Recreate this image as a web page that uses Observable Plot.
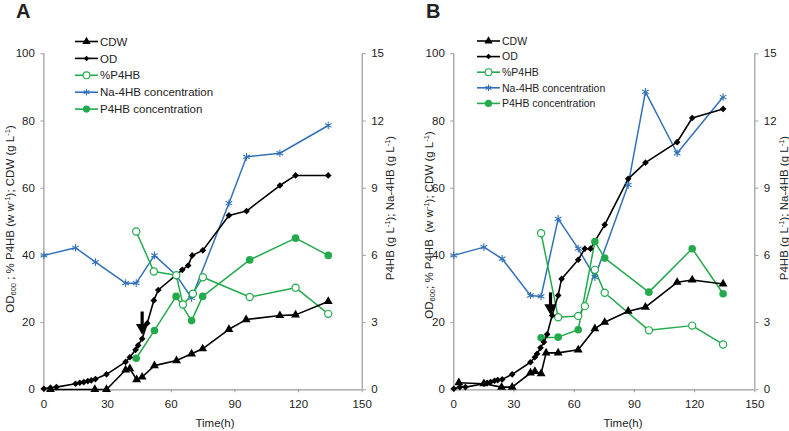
<!DOCTYPE html>
<html><head><meta charset="utf-8">
<script src="https://cdn.jsdelivr.net/npm/d3@7"></script>
<script src="https://cdn.jsdelivr.net/npm/@observablehq/plot@0.6"></script>
<style>
body{margin:0;background:#fff;}
#wrap{position:relative;width:789px;height:431px;font-family:"Liberation Sans",Arial,sans-serif;color:#222;overflow:hidden;}
.lbl{position:absolute;white-space:nowrap;font-size:11.5px;transform:translate(-50%,-50%);}
.rot{transform:translate(-50%,-50%) rotate(-90deg);}
.panel{position:absolute;font-weight:bold;font-size:20px;}
sub,sup{font-size:7.5px;}
sub{vertical-align:-2px;} sup{vertical-align:4px;}
</style></head>
<body><div id="wrap"></div>
<script>
// ---------- DATA ----------
const seriesNames = ["CDW", "OD", "%P4HB", "Na-4HB concentration", "P4HB concentration"];
const leftTicks = [0, 20, 40, 60, 80, 100];
const rightTicks = [0, 3, 6, 9, 12, 15];
const xTicks = [0, 30, 60, 90, 120, 150];

// Panel A
const odA_t = [0, 3.1, 5.9, 14.9, 16.9, 18.8, 20.7, 22.3, 24.3, 29.5, 38.5, 40.5, 43.2, 44.4, 46.3, 48.7, 51.8, 53.9, 65.2, 68, 69.9, 74.9, 87.2, 95.5, 111.2, 118.6, 134];
const odA_v = [0.3, 0.6, 0.8, 1.8, 2.1, 2.3, 2.6, 2.8, 3.2, 4.6, 8.3, 9.7, 11.9, 13.2, 15.2, 19.8, 26.6, 29.7, 35.7, 37, 40, 41.5, 51.9, 53.2, 60.8, 63.8, 63.8];
const cdwA_t = [3.1, 24, 29.5, 38.5, 40.5, 43.7, 46.3, 52.1, 62.5, 69.6, 74.8, 87.2, 95.3, 111.2, 118.6, 134];
const cdwA_v = [0.1, 0.1, 0.1, 5.9, 6.3, 3.0, 3.8, 7.2, 8.7, 10.7, 12.2, 18.0, 20.9, 22.1, 22.3, 26.3];
const pctA_t = [43.5, 51.8, 62.4, 65.5, 70.2, 74.9, 97, 118.6, 134];
const pctA_v = [47.1, 35.2, 34.1, 25.4, 28.6, 33.5, 27.6, 30.4, 22.6];
const p4hbA_t = [43.5, 52.1, 62.3, 69.6, 74.8, 97, 118.6, 134];
const p4hbA_v = [1.41, 2.65, 4.17, 3.09, 4.17, 5.8, 6.77, 6.0];
const naA_t = [0, 14.9, 24.3, 38.5, 43.5, 52.1, 62.5, 69.6, 87.2, 95.5, 111.2, 134];
const naA_v = [6.0, 6.34, 5.7, 4.76, 4.76, 6.0, 5.1, 4.1, 8.33, 10.4, 10.56, 11.8];
const arrowA = {t: 46.3, from: 23.3, to: 17.3};

// Panel B
const odB_t = [0, 3, 5.8, 15, 16.6, 18.3, 20.3, 21.9, 24.1, 29.1, 38.2, 40.4, 41.5, 43.2, 44.9, 46.5, 49, 52, 53.7, 62, 65.3, 68.1, 75.2, 86.9, 95.5, 111.3, 118.8, 134.2];
const odB_v = [0.3, 0.8, 0.8, 1.8, 2.1, 2.3, 2.7, 2.9, 3.1, 4.6, 8.2, 9.7, 10.7, 12.5, 14.2, 16.5, 22.1, 28.1, 33, 38.7, 42, 42, 49.1, 62.8, 67.6, 73.7, 80.9, 83.6];
const cdwB_t = [2.5, 15, 23.8, 29.1, 38.2, 40.4, 43.5, 46, 52, 62, 70.3, 75.2, 86.9, 95.5, 111.3, 118.8, 134.2];
const cdwB_v = [2.1, 1.8, 0.8, 0.8, 5.0, 5.5, 4.8, 11, 11, 11.9, 18.2, 20.1, 23.4, 24.6, 32, 32.7, 31.5];
const pctB_t = [43.5, 52, 62, 65.3, 70.3, 75.2, 97.2, 118.8, 134.2];
const pctB_v = [46.6, 21.6, 22, 24.9, 35.7, 28.9, 17.7, 19.1, 13.5];
const p4hbB_t = [43.5, 52, 62, 70.3, 75.2, 97.2, 118.8, 134.2];
const p4hbB_v = [2.32, 2.35, 2.68, 6.62, 5.88, 4.36, 6.3, 4.29];
const naB_t = [0, 15, 24.1, 38.2, 43.5, 52, 62, 70.3, 86.9, 95.5, 111.3, 134.2];
const naB_v = [6.0, 6.37, 5.85, 4.21, 4.17, 7.63, 6.3, 5.03, 9.15, 13.3, 10.56, 13.07];
const arrowB = {t: 48.2, from: 29.0, to: 23.2};

// ---------- STYLE ----------
const BLACK = "#000", GREEN = "#22aa4c", BLUE = "#3271b8", AXIS = "#9a9a9a";
const RATIO = 0.15; // right axis units per left axis unit

const zip = (ts, vs) => ts.map((t, i) => ({t, v: vs[i]}));

function panel(d, opts) {
  const od = zip(d.odT, d.odV), cdw = zip(d.cdwT, d.cdwV), pct = zip(d.pctT, d.pctV);
  const p4 = zip(d.p4T, d.p4V), na = zip(d.naT, d.naV);
  const yR = r => r.v / RATIO;
  return Plot.plot({
    width: opts.width, height: 431,
    marginLeft: opts.ml, marginRight: opts.mr, marginTop: 53.3, marginBottom: 41.7,
    style: {background: "transparent", fontFamily: "Liberation Sans, Arial, sans-serif", fontSize: "11.5px", color: "#222"},
    x: {domain: [0, 150]},
    y: {domain: [0, 100]},
    marks: [
      Plot.ruleX([0, 150], {stroke: AXIS, strokeWidth: 1.2}),
      Plot.ruleY([0], {stroke: AXIS, strokeWidth: 1.2}),
      Plot.axisX({ticks: xTicks, tickSize: 3, tickPadding: 7, stroke: AXIS, label: null}),
      Plot.axisY({anchor: "left", ticks: leftTicks, tickSize: 3, tickPadding: 6, stroke: AXIS, label: null}),
      Plot.axisY({anchor: "right", ticks: rightTicks.map(v => v / RATIO), tickFormat: v => Math.round(v * RATIO), tickSize: 3, tickPadding: 6, stroke: AXIS, label: null}),
      Plot.line(na, {x: "t", y: yR, stroke: BLUE, strokeWidth: 1.5}),
      Plot.line(pct, {x: "t", y: "v", stroke: GREEN, strokeWidth: 1.5}),
      Plot.line(p4, {x: "t", y: yR, stroke: GREEN, strokeWidth: 1.5}),
      Plot.line(cdw, {x: "t", y: "v", stroke: BLACK, strokeWidth: 1.6}),
      Plot.line(od, {x: "t", y: "v", stroke: BLACK, strokeWidth: 1.6}),
      Plot.dot(na, {x: "t", y: yR, symbol: "asterisk", r: 3.6, stroke: BLUE, strokeWidth: 1.1}),
      Plot.dot(pct, {x: "t", y: "v", symbol: "circle", r: 3.6, stroke: GREEN, fill: "white", strokeWidth: 1.2}),
      Plot.dot(p4, {x: "t", y: yR, symbol: "circle", r: 3.8, fill: GREEN, stroke: "none"}),
      Plot.dot(cdw, {x: "t", y: "v", symbol: "triangle", r: 3.3, fill: BLACK, stroke: "none"}),
      Plot.dot(od, {x: "t", y: "v", symbol: "diamond2", r: 3.0, fill: BLACK, stroke: "none"}),
      // annotation arrow: shaft + filled head
      Plot.link([d.arrow], {x1: "t", x2: "t", y1: "from", y2: r => r.to + 2, stroke: BLACK, strokeWidth: 3.2, strokeLinecap: "butt"}),
      Plot.dot([d.arrow], {x: "t", y: r => r.to + 1.2, symbol: "triangle", r: 4.6, rotate: 180, fill: BLACK, stroke: "none"})
    ]
  });
}

const wrap = document.getElementById("wrap");
function place(el, left) { el.style.position = "absolute"; el.style.left = left + "px"; el.style.top = "0px"; wrap.appendChild(el); }

place(panel({odT: odA_t, odV: odA_v, cdwT: cdwA_t, cdwV: cdwA_v, pctT: pctA_t, pctV: pctA_v, p4T: p4hbA_t, p4V: p4hbA_v, naT: naA_t, naV: naA_v, arrow: arrowA}, {width: 400, ml: 43.4, mr: 38.3}), 0);
place(panel({odT: odB_t, odV: odB_v, cdwT: cdwB_t, cdwV: cdwB_v, pctT: pctB_t, pctV: pctB_v, p4T: p4hbB_t, p4V: p4hbB_v, naT: naB_t, naV: naB_v, arrow: arrowB}, {width: 394, ml: 58.3, mr: 34.7}), 395);

// ---------- TEXT ----------
function html(str, cls, x, y) {
  const d = document.createElement("div");
  d.className = cls; d.innerHTML = str; d.style.left = x + "px"; d.style.top = y + "px";
  wrap.appendChild(d);
}
html("A", "panel", 16, 0);
html("B", "panel", 426, 0);
html("OD<sub>600</sub> ; % P4HB (w w<sup>-1</sup>); CDW (g L<sup>-1</sup>)", "lbl rot", 10, 219);
html("P4HB (g L<sup>-1</sup>); Na-4HB (g L<sup>-1</sup>)", "lbl rot", 389, 208);
html("OD<sub>600</sub>; % P4HB&nbsp; (w w<sup>-1</sup>); CDW (g L<sup>-1</sup>)", "lbl rot", 429, 225);
html("P4HB (g L<sup>-1</sup>); Na-4HB (g L<sup>-1</sup>)", "lbl rot", 783, 208);
html("Time(h)", "lbl", 215, 423);
html("Time(h)", "lbl", 623, 423);

// ---------- LEGENDS ----------
const legendStyle = [
  {stroke: BLACK, symbol: d3.symbolTriangle, fill: BLACK, mstroke: "none", size: 30},
  {stroke: BLACK, symbol: d3.symbolSquare, fill: BLACK, mstroke: "none", size: 15, rot: 45},
  {stroke: GREEN, symbol: d3.symbolCircle, fill: "white", mstroke: GREEN, size: 36},
  {stroke: BLUE, symbol: d3.symbolAsterisk, fill: "none", mstroke: BLUE, size: 30},
  {stroke: GREEN, symbol: d3.symbolCircle, fill: GREEN, mstroke: "none", size: 40}
];
const svg = d3.select(wrap).append("svg").attr("width", 789).attr("height", 431)
  .style("position", "absolute").style("left", 0).style("top", 0).style("pointer-events", "none");
function legend(x0, y0, dy, fs) {
  const g = svg.append("g").attr("font-family", "Liberation Sans, Arial, sans-serif").attr("font-size", fs).attr("fill", "#222");
  seriesNames.forEach((name, i) => {
    const s = legendStyle[i], y = y0 + i * dy;
    g.append("line").attr("x1", x0).attr("x2", x0 + 23).attr("y1", y).attr("y2", y).attr("stroke", s.stroke).attr("stroke-width", 1.6);
    g.append("path").attr("d", d3.symbol(s.symbol, s.size)())
      .attr("transform", `translate(${x0 + 11.5},${y})` + (s.rot ? ` rotate(${s.rot})` : ""))
      .attr("fill", s.fill).attr("stroke", s.mstroke).attr("stroke-width", 1.1);
    g.append("text").attr("x", x0 + 25).attr("y", y).attr("dy", "0.36em").text(name);
  });
}
legend(75, 41.5, 16.9, 11.5);
legend(477, 41, 15.6, 10.5);
</script></body></html>
